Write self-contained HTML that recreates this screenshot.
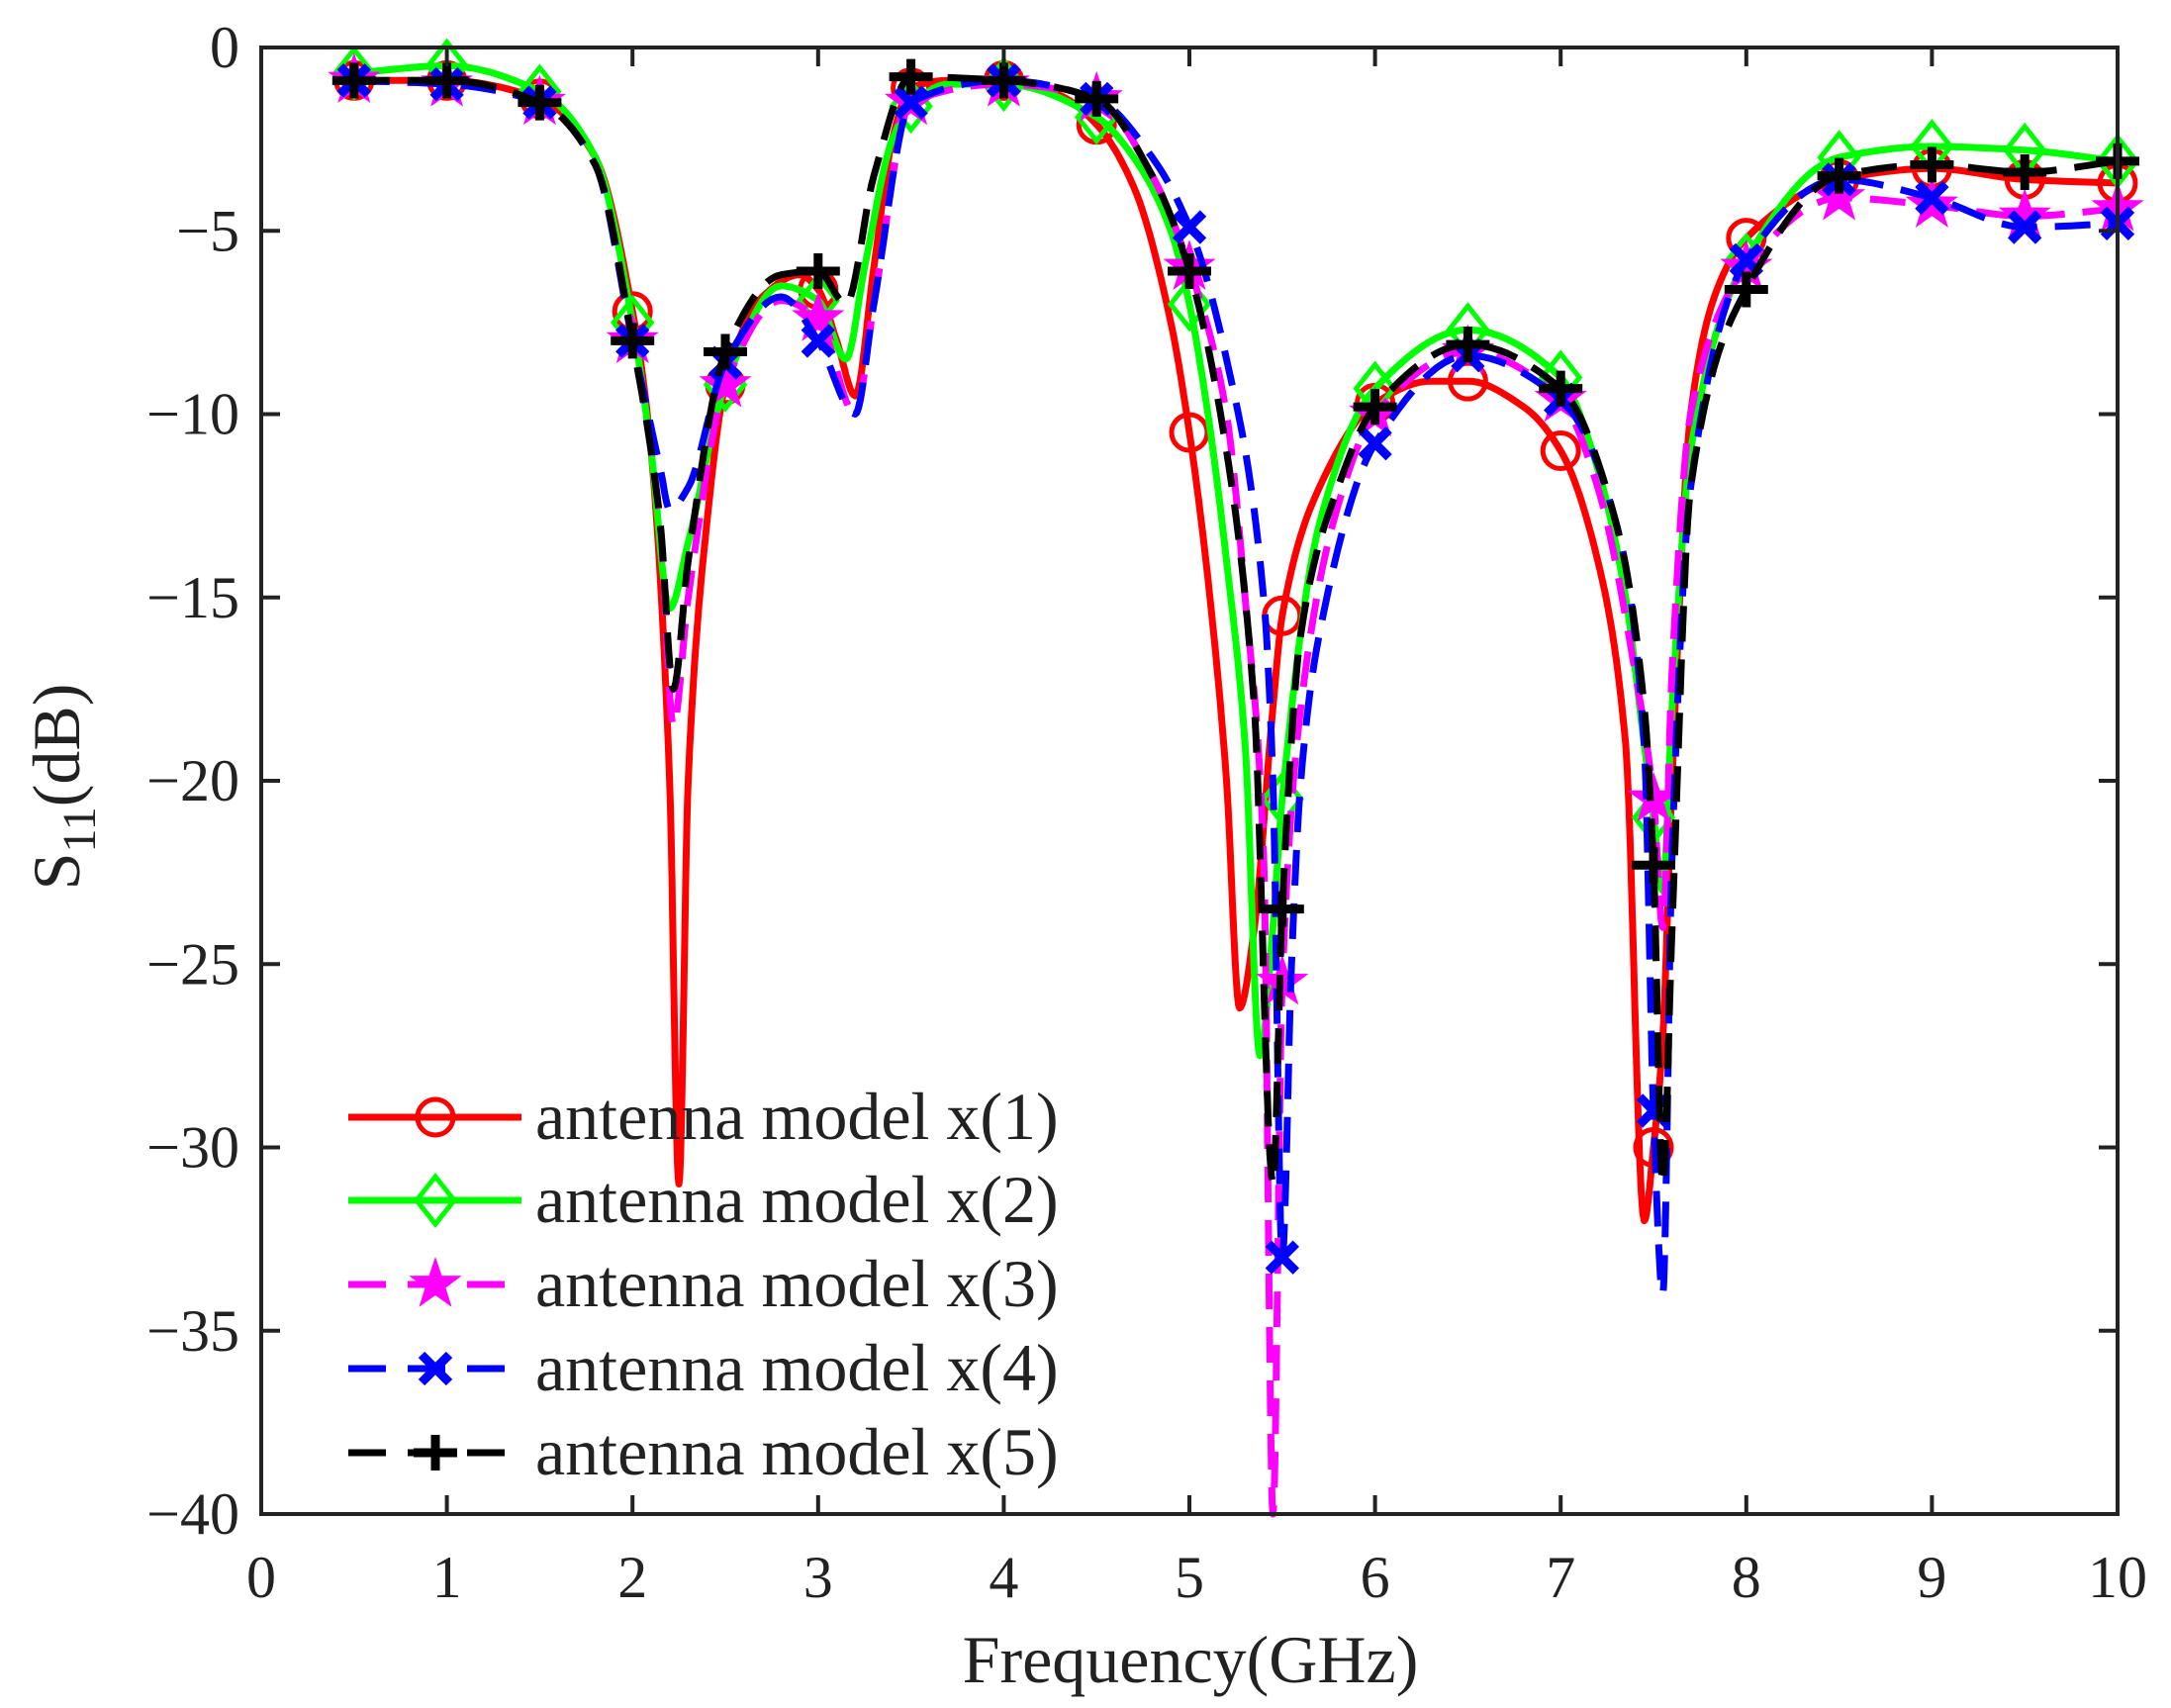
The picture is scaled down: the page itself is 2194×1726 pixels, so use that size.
<!DOCTYPE html>
<html><head><meta charset="utf-8"><style>
html,body{margin:0;padding:0;background:#fff}
svg{display:block}
text{font-family:"Liberation Serif",serif;fill:#222}
</style></head><body>
<svg id="chart" width="2194" height="1726" viewBox="0 0 2194 1726" xmlns="http://www.w3.org/2000/svg">
<g id="series"></g>
<g id="axes"></g>
<g id="legend"></g>
<text x="1203" y="1700" font-size="68" text-anchor="middle">Frequency(GHz)</text>
<text transform="translate(80,795) rotate(-90)" font-size="68" text-anchor="middle">S<tspan font-size="48" dy="16">11</tspan><tspan dy="-16">(dB)</tspan></text>
</svg>
<script>
const xTicks=[0,1,2,3,4,5,6,7,8,9,10];
const yTicks=[0,-5,-10,-15,-20,-25,-30,-35,-40];
const seriesNames=["antenna model x(1)","antenna model x(2)","antenna model x(3)","antenna model x(4)","antenna model x(5)"];
const f1=[0.5,1,1.5,1.8,2,2.1,2.2,2.25,2.3,2.4,2.5,2.7,2.9,3,3.1,3.2,3.3,3.4,3.5,3.7,4,4.3,4.5,4.7,4.9,5,5.1,5.2,5.27,5.35,5.45,5.5,5.7,6,6.3,6.5,6.8,7,7.2,7.35,7.45,7.5,7.55,7.6,7.7,7.85,8,8.5,9,9.5,10];
const s1=[-0.9,-0.9,-1.4,-3,-7.2,-11,-20,-31,-20,-13,-9.2,-6.8,-6.2,-6.6,-8,-9.5,-6,-2.5,-1.1,-0.9,-0.9,-1.3,-2.1,-3.8,-7.5,-10.5,-14.5,-20,-26.2,-24,-18,-15.5,-12,-9.7,-9.1,-9.1,-9.8,-11,-14,-19,-32,-30,-27,-20,-10,-6.5,-5.2,-3.6,-3.3,-3.6,-3.7];
const f2=[0.5,1,1.5,1.8,2,2.1,2.2,2.3,2.5,2.8,3,3.15,3.25,3.4,3.5,3.7,4,4.5,4.7,4.9,5,5.1,5.2,5.3,5.38,5.45,5.5,5.7,6,6.5,7,7.2,7.35,7.45,7.5,7.55,7.6,7.7,8,8.5,9,9.5,10];
const s2=[-0.7,-0.5,-1.2,-3,-7.5,-11,-15.3,-13.5,-9.2,-6.5,-6.9,-8.5,-6,-2.5,-1.6,-1.0,-1.0,-1.9,-3,-5,-7,-10,-14,-19,-27.5,-24,-20.5,-13,-9.3,-7.7,-9,-11.5,-15,-19,-21,-23,-18,-11,-5.8,-3,-2.7,-2.8,-3.1];
const f3=[0.5,1,1.5,1.8,2,2.15,2.22,2.3,2.5,2.8,3,3.2,3.3,3.5,4,4.5,4.8,5,5.2,5.3,5.4,5.45,5.5,5.6,5.8,6,6.5,7,7.2,7.4,7.5,7.55,7.6,7.7,8,8.5,9,9.5,10];
const s3=[-0.9,-1.0,-1.5,-3.2,-8,-13,-18.5,-15,-9.2,-6.9,-7.4,-10,-7,-1.5,-1.0,-1.4,-3.5,-6,-10,-15,-22,-40,-25.5,-18,-12.5,-10,-8.3,-9.6,-12,-17,-20.5,-24,-17,-10,-6,-4.1,-4.3,-4.6,-4.4];
const f4=[0.5,1,1.5,1.8,2,2.15,2.2,2.3,2.5,2.8,3,3.2,3.3,3.5,4,4.5,4.8,5,5.2,5.4,5.45,5.5,5.55,5.6,5.7,6,6.5,7,7.3,7.45,7.5,7.55,7.6,7.7,8,8.5,9,9.5,10];
const s4=[-0.9,-1.0,-1.5,-3.2,-8,-11.5,-12.6,-12,-8.6,-6.8,-8,-10,-7,-1.5,-0.9,-1.4,-3,-4.9,-8.5,-15,-20,-33,-25,-20,-16,-10.8,-8.4,-9.6,-13,-19,-29,-34,-22,-12,-5.8,-3.6,-4.1,-4.9,-4.8];
const f5=[0.5,1,1.5,1.8,2,2.15,2.22,2.3,2.5,2.8,3,3.15,3.3,3.5,4,4.5,4.8,5,5.2,5.35,5.45,5.5,5.6,5.8,6,6.5,7,7.3,7.45,7.5,7.55,7.6,7.7,8,8.5,9,9.5,10];
const s5=[-0.9,-0.9,-1.5,-3.2,-8,-13,-17.5,-14,-8.3,-6.2,-6.1,-7,-3.5,-0.8,-0.9,-1.4,-3.5,-6.1,-11,-18,-31,-23.5,-16,-12,-9.8,-8.1,-9.3,-13,-18,-22.3,-31,-24,-12,-6.6,-3.5,-3.2,-3.4,-3.1];
const markerFreqs=[0.5,1,1.5,2,2.5,3,3.5,4,4.5,5,5.5,6,6.5,7,7.5,8,8.5,9,9.5,10];
const ns="http://www.w3.org/2000/svg";
const X0=264,X1=2140,Y0=48,Y1=1530;
const xs=v=>X0+(v-0)/10*(X1-X0);
const ys=v=>Y0+(0-v)/40*(Y1-Y0);
function mk(tag,parent){const e=document.createElementNS(ns,tag);parent.appendChild(e);return e;}
function tangents(x,y){const n=x.length,d=[],m=[];for(let i=0;i<n-1;i++)d.push((y[i+1]-y[i])/(x[i+1]-x[i]));m[0]=d[0];m[n-1]=d[n-2];for(let i=1;i<n-1;i++){if(d[i-1]*d[i]<=0)m[i]=0;else{const w1=2*(x[i+1]-x[i])+(x[i]-x[i-1]),w2=(x[i+1]-x[i])+2*(x[i]-x[i-1]);m[i]=(w1+w2)/(w1/d[i-1]+w2/d[i]);}}return m;}
function evalAt(x,y,m,f){let i=0;while(i<x.length-2&&f>x[i+1])i++;const h=x[i+1]-x[i],t=Math.min(1,Math.max(0,(f-x[i])/h));const t2=t*t,t3=t2*t;return (2*t3-3*t2+1)*y[i]+(t3-2*t2+t)*h*m[i]+(-2*t3+3*t2)*y[i+1]+(t3-t2)*h*m[i+1];}
const colors=["#ff0000","#00ff00","#ff00ff","#0000ff","#000000"];
const dashes=[null,null,"36 18","36 18","36 18"];
const markers=["circle","diamond","star","x","plus"];
const F=[f1,f2,f3,f4,f5],S=[s1,s2,s3,s4,s5];
function drawMarker(g,type,cx,cy,c){
  let e;
  if(type==="circle"){e=mk("circle",g);e.setAttribute("cx",cx);e.setAttribute("cy",cy);e.setAttribute("r",18);e.setAttribute("fill","none");e.setAttribute("stroke",c);e.setAttribute("stroke-width",5);}
  else if(type==="diamond"){e=mk("polygon",g);e.setAttribute("points",`${cx},${cy-24} ${cx+19},${cy} ${cx},${cy+24} ${cx-19},${cy}`);e.setAttribute("fill","none");e.setAttribute("stroke",c);e.setAttribute("stroke-width",5);}
  else if(type==="star"){let p=[];for(let k=0;k<10;k++){const r=k%2?11:28;const a=-Math.PI/2+k*Math.PI/5;p.push((cx+r*Math.cos(a)).toFixed(1)+","+(cy+r*Math.sin(a)).toFixed(1));}e=mk("polygon",g);e.setAttribute("points",p.join(" "));e.setAttribute("fill",c);}
  else if(type==="x"){e=mk("path",g);e.setAttribute("d",`M${cx-14},${cy-14}L${cx+14},${cy+14}M${cx-14},${cy+14}L${cx+14},${cy-14}`);e.setAttribute("stroke",c);e.setAttribute("stroke-width",9);}
  else {e=mk("path",g);e.setAttribute("d",`M${cx-22},${cy}L${cx+22},${cy}M${cx},${cy-18}L${cx},${cy+18}`);e.setAttribute("stroke",c);e.setAttribute("stroke-width",9);}
  
  
}
const sg=document.getElementById("series");
for(let i=0;i<5;i++){
  const g=mk("g",sg);
  
  
  const fx=F[i],sy=S[i],m=tangents(fx,sy);
  const pts=[];
  for(let k=0;k<fx.length-1;k++){for(let j=0;j<12;j++){const f=fx[k]+(fx[k+1]-fx[k])*j/12;pts.push(xs(f).toFixed(1)+","+ys(evalAt(fx,sy,m,f)).toFixed(1));}}
  pts.push(xs(fx[fx.length-1]).toFixed(1)+","+ys(sy[sy.length-1]).toFixed(1));
  const pl=mk("polyline",g);
  
  
  pl.setAttribute("points",pts.join(" "));
  pl.setAttribute("fill","none");pl.setAttribute("stroke",colors[i]);pl.setAttribute("stroke-width",7);pl.setAttribute("stroke-linejoin","round");
  if(dashes[i])pl.setAttribute("stroke-dasharray",dashes[i]);
  markerFreqs.forEach(f=>drawMarker(g,markers[i],xs(f),ys(evalAt(fx,sy,m,f)),colors[i]));
}
const ag=document.getElementById("axes");
const box=mk("rect",ag);


box.setAttribute("x",X0);box.setAttribute("y",Y0);box.setAttribute("width",X1-X0);box.setAttribute("height",Y1-Y0);box.setAttribute("fill","none");box.setAttribute("stroke","#222");box.setAttribute("stroke-width",4);
xTicks.forEach(v=>{
  const x=xs(v);
  const t=mk("path",ag);
  
  
  t.setAttribute("d",`M${x},${Y1}V${Y1-19}M${x},${Y0}V${Y0+19}`);t.setAttribute("stroke","#222");t.setAttribute("stroke-width",4);
  const l=mk("text",ag);
  
  
  l.setAttribute("x",x);l.setAttribute("y",1614);l.setAttribute("font-size",60);l.setAttribute("text-anchor","middle");l.textContent=v;
});
yTicks.forEach(v=>{
  const y=ys(v);
  const t=mk("path",ag);
  
  
  t.setAttribute("d",`M${X0},${y}H${X0+19}M${X1},${y}H${X1-19}`);t.setAttribute("stroke","#222");t.setAttribute("stroke-width",4);
  const l=mk("text",ag);
  
  
  l.setAttribute("x",242);l.setAttribute("y",y+20);l.setAttribute("font-size",60);l.setAttribute("text-anchor","end");l.textContent=v===0?"0":"\u2212"+Math.abs(v);
});
const lg=document.getElementById("legend");
const rows=[1129,1213,1298,1383,1468];
for(let i=0;i<5;i++){
  const g=mk("g",lg);
  
  
  const l=mk("line",g);
  
  
  l.setAttribute("x1",352);l.setAttribute("x2",527);l.setAttribute("y1",rows[i]);l.setAttribute("y2",rows[i]);l.setAttribute("stroke",colors[i]);l.setAttribute("stroke-width",7);
  if(dashes[i])l.setAttribute("stroke-dasharray","38 22");
  drawMarker(g,markers[i],440,rows[i],colors[i]);
  const t=mk("text",g);
  
  
  t.setAttribute("x",541);t.setAttribute("y",rows[i]+22);t.setAttribute("font-size",68);t.textContent=seriesNames[i];
}
</script>
</body></html>
